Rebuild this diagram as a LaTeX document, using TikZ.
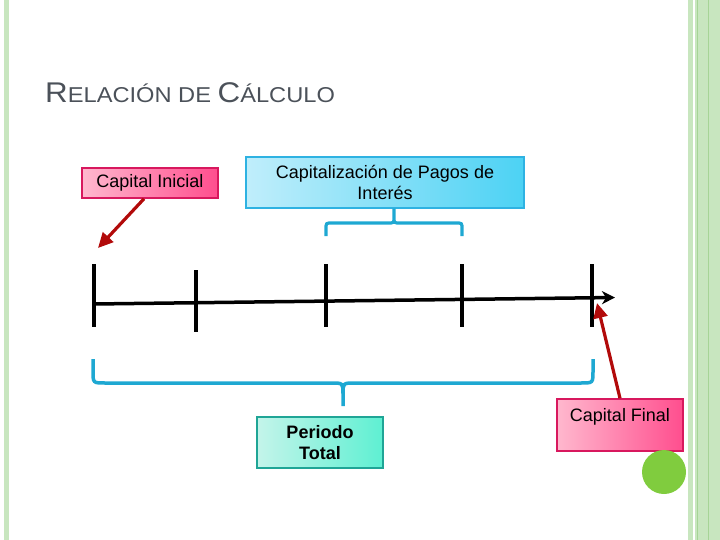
\documentclass[tikz,border=0pt]{standalone}
\usepackage{fontspec}
\setmainfont{Liberation Sans}
\usetikzlibrary{arrows.meta}
\definecolor{stripe}{HTML}{C8E6BF}
\definecolor{stripedark}{HTML}{A6D496}
\definecolor{titlegray}{HTML}{4B5159}
\definecolor{pinkL}{HTML}{FFB8CE}
\definecolor{pinkR}{HTML}{FF4E8E}
\definecolor{pinkB}{HTML}{D8185E}
\definecolor{blueL}{HTML}{C0EEFB}
\definecolor{blueR}{HTML}{4CD2F4}
\definecolor{blueB}{HTML}{2EB2E2}
\definecolor{tealL}{HTML}{C4F4EA}
\definecolor{tealR}{HTML}{5EF0D2}
\definecolor{tealB}{HTML}{1FA596}
\definecolor{bracecol}{HTML}{1EA8D2}
\definecolor{arrowred}{HTML}{B20A0A}
\definecolor{dotgreen}{HTML}{80CC3E}
\tikzset{
  boxtext/.style={font=\fontsize{18}{21}\selectfont, align=center, inner sep=0pt},
  pinkbox/.style={boxtext, draw=pinkB, line width=1.5pt, left color=pinkL, right color=pinkR},
  bluebox/.style={boxtext, draw=blueB, line width=1.5pt, left color=blueL, right color=blueR},
  tealbox/.style={boxtext, draw=tealB, line width=1.5pt, left color=tealL, right color=tealR},
  bracestyle/.style={draw=bracecol, line width=3.5pt},
  smallbrace/.style={draw=bracecol, line width=3.2pt},
  tickline/.style={draw=black, line width=4pt},
  timeline/.style={draw=black, line width=3.5pt, -{Stealth[length=13pt,width=13pt,inset=4pt]}},
  redarrow/.style={draw=arrowred, line width=3.2pt, -{Triangle[length=15pt,width=14pt]}}
}
\begin{document}
\begin{tikzpicture}[x=1pt,y=-1pt]
\useasboundingbox (0,0) rectangle (720,540);
% slide decoration
\fill[stripe] (4,0) rectangle (9,540);
\fill[stripe] (688,0) rectangle (693,540);
\fill[stripe] (695,0) rectangle (720,540);
\draw[stripedark, line width=1pt] (697,0) -- (697,540);
\draw[stripedark, line width=1pt] (708,0) -- (708,540);
% title
\node[anchor=base west, inner sep=0pt, text=titlegray] (title) at (45,103)
  {\scalebox{1.1}[1]{\fontsize{28.5}{30}\selectfont R\fontsize{21.5}{24}\selectfont ELACIÓN DE \fontsize{28.5}{30}\selectfont C\fontsize{21.5}{24}\selectfont ÁLCULO}};
% boxes
\node[pinkbox, minimum width=136, minimum height=30] (ci) at (150,183) {Capital Inicial};
\node[bluebox, minimum width=278, minimum height=51] (cp) at (385,182.5) {Capitalización de Pagos de\\Interés};
\node[tealbox, minimum width=126, minimum height=51, font=\fontsize{18}{21}\selectfont\bfseries] (pt) at (320,442.5) {Periodo\\Total};
\node[pinkbox, minimum width=126, minimum height=52] (cf) at (620,425) {Capital Final\\\mbox{}};
\node[circle, fill=dotgreen, minimum size=44, inner sep=0pt] (dot) at (664,472) {};
% timeline
\coordinate (t0) at (94,304);
\coordinate (tend) at (615,297.5);
\draw[timeline] (t0) -- (tend);
\coordinate (k1t) at (94,264);   \coordinate (k1b) at (94,327);
\coordinate (k2t) at (196,270);  \coordinate (k2b) at (196,332);
\coordinate (k3t) at (326,264);  \coordinate (k3b) at (326,327);
\coordinate (k4t) at (462,264);  \coordinate (k4b) at (462,327);
\coordinate (k5t) at (592,264);  \coordinate (k5b) at (592,327);
\foreach \k in {1,...,5} {\draw[tickline] (k\k t) -- (k\k b);}
% small brace under capitalización
\coordinate (sbL) at (326,236);
\coordinate (sbR) at (462,236);
\draw[smallbrace] (sbL) -- (326,229) .. controls (326,223) .. (332,223) -- (388,223)
  .. controls (394,223) .. (394,217) -- ([xshift=9pt]cp.south)
  (394,217) .. controls (394,223) .. (400,223) -- (456,223) .. controls (462,223) .. (462,229) -- (sbR);
% big brace under timeline
\coordinate (bbL) at (93,359);
\coordinate (bbR) at (593,359);
\coordinate (bbT) at (343,406);
\draw[bracestyle] (bbL) -- (93,371) .. controls (93,383) .. (105,383) -- (331,383)
  .. controls (343,383) .. (343,394) -- (bbT)
  (343,394) .. controls (343,383) .. (355,383) -- (581,383) .. controls (593,383) .. (593,371) -- (bbR);
% red arrows
\coordinate (ciT) at (98,248);
\draw[redarrow] ([xshift=-6pt]ci.south) -- (ciT);
\coordinate (cfT) at (597,303);
\draw[redarrow] (cf.north) -- (cfT);
\end{tikzpicture}
\end{document}
